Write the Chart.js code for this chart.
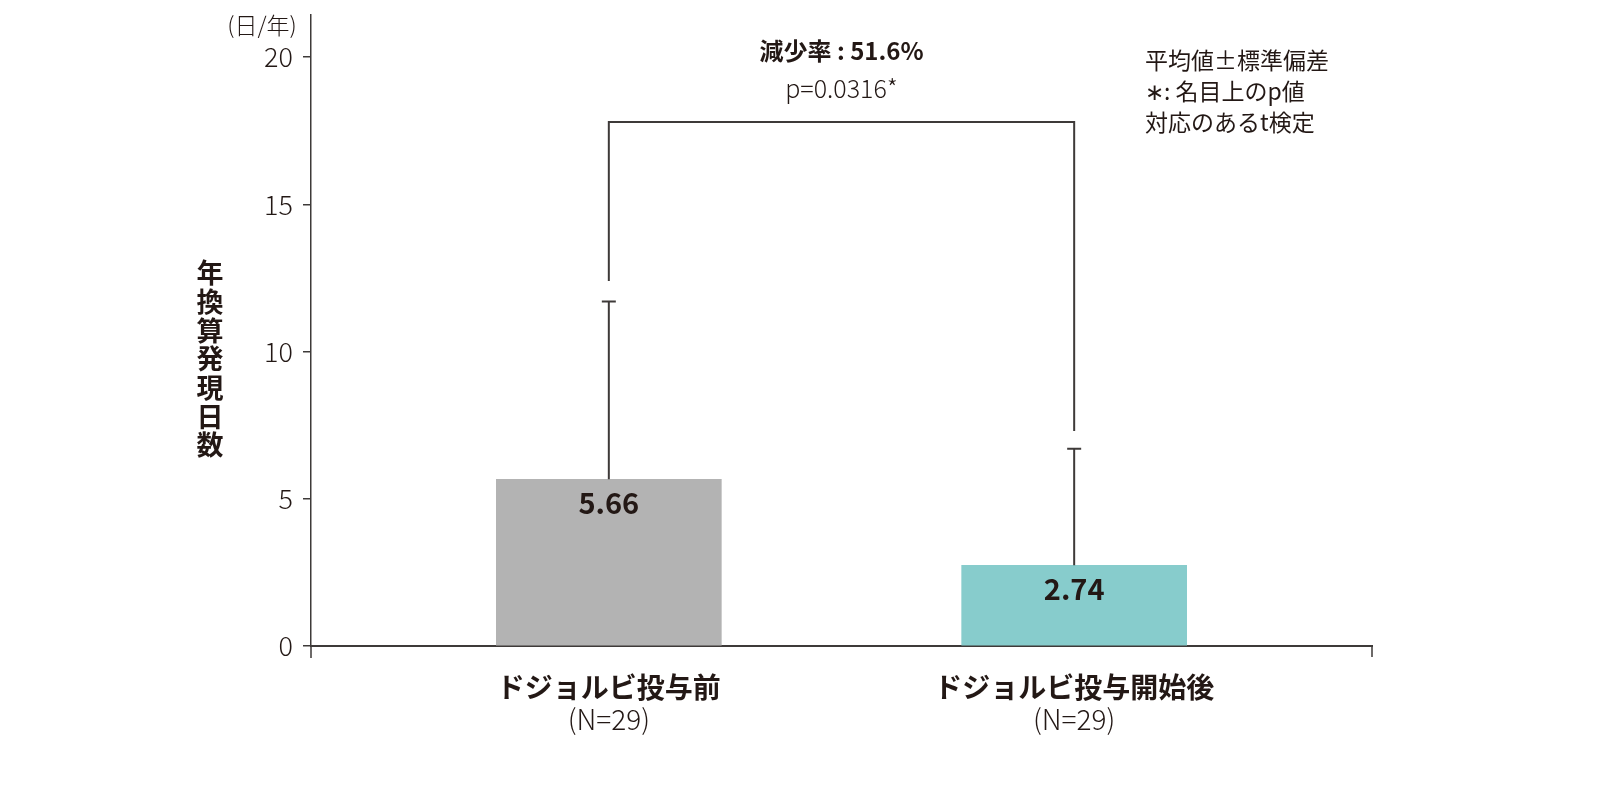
<!DOCTYPE html>
<html>
<head>
<meta charset="utf-8">
<script src="https://cdn.jsdelivr.net/npm/chart.js@4"></script>
<style>
    body { margin: 0; background: #fff; }
    #wrap { width: 1600px; height: 800px; }
</style>
</head>
<body>
<div id="wrap"><canvas id="daysChart" width="1600" height="800"></canvas></div>
<script>
const groups = ["ドジョルビ投与前", "ドジョルビ投与開始後"]
const groupN = ["(N=29)", "(N=29)"]
const means = [5.66, 2.74]
const sdTops = [11.7, 6.7]
const barColors = ["#b3b3b3", "#87cccc"]
const bracketTop = 17.8
const bracketEnds = [12.4, 7.3]
const yTicks = [0, 5, 10, 15, 20]
const notes = ["平均値±標準偏差", "∗: 名目上のp値", "対応のあるt検定"]
const statLines = ["減少率 : 51.6%", "p=0.0316*"]
const yTitle = "年換算発現日数"
const yUnit = "(日/年)"

const ink = "#231815"
const lineInk = "#3e3a39"
const jp = '"Noto Sans CJK JP", "Noto Sans", sans-serif'

const extras = {
    id: "extras",
    afterDatasetsDraw(chart) {
        const ctx = chart.ctx
        const x = chart.scales.x
        const y = chart.scales.y
        const area = chart.chartArea
        ctx.save()
        ctx.strokeStyle = lineInk
        ctx.fillStyle = ink

        // error bars (upper only)
        ctx.lineWidth = 2
        for (let i = 0; i < means.length; i++) {
            const px = x.getPixelForValue(i + 1)
            const yTop = y.getPixelForValue(sdTops[i])
            ctx.beginPath()
            ctx.moveTo(px, y.getPixelForValue(means[i]))
            ctx.lineTo(px, yTop)
            ctx.moveTo(px - 7, yTop)
            ctx.lineTo(px + 7, yTop)
            ctx.stroke()
        }

        // bracket
        const bTop = y.getPixelForValue(bracketTop)
        const x1 = x.getPixelForValue(1)
        const x2 = x.getPixelForValue(2)
        ctx.beginPath()
        ctx.moveTo(x1, y.getPixelForValue(bracketEnds[0]))
        ctx.lineTo(x1, bTop)
        ctx.lineTo(x2, bTop)
        ctx.lineTo(x2, y.getPixelForValue(bracketEnds[1]))
        ctx.stroke()

        // axis ends below zero
        ctx.lineWidth = 1.5
        ctx.beginPath()
        ctx.moveTo(area.left, area.bottom)
        ctx.lineTo(area.left, area.bottom + 12)
        ctx.moveTo(area.right, area.bottom)
        ctx.lineTo(area.right, area.bottom + 11)
        ctx.stroke()

        // value labels inside bars
        ctx.textAlign = "center"
        ctx.textBaseline = "middle"
        ctx.font = "bold 29px " + jp
        for (let i = 0; i < means.length; i++) {
            ctx.fillText(means[i].toFixed(2), x.getPixelForValue(i + 1), y.getPixelForValue(means[i]) + 24)
        }

        // category labels
        for (let i = 0; i < groups.length; i++) {
            const px = x.getPixelForValue(i + 1)
            ctx.font = "bold 28px " + jp
            ctx.fillText(groups[i], px, area.bottom + 41)
            ctx.font = "300 28px " + jp
            ctx.fillText(groupN[i], px, area.bottom + 73)
        }

        // stats above bracket
        const mid = (x1 + x2) / 2
        ctx.font = "bold 24px " + jp
        ctx.fillText(statLines[0], mid, 51)
        ctx.font = "300 25px " + jp
        ctx.fillText(statLines[1], mid, 88)

        // notes
        ctx.textAlign = "left"
        ctx.font = "23px " + jp
        notes.forEach((t, i) => ctx.fillText(t, 1145, 60 + i * 31))

        // unit
        ctx.textAlign = "center"
        ctx.font = "300 23px " + jp
        ctx.fillText(yUnit, 262, 25)

        // vertical y title
        ctx.font = "bold 27px " + jp
        for (let i = 0; i < yTitle.length; i++) {
            ctx.fillText(yTitle[i], 210, 273 + i * 28.7)
        }
        ctx.restore()
    }
}

const ctx = document.getElementById("daysChart").getContext("2d")

new Chart(ctx, {
    type: "bar",
    data: {
        datasets: [{
            data: means.map((v, i) => ({ x: i + 1, y: v })),
            backgroundColor: barColors,
            borderWidth: 0,
            barThickness: 225
        }]
    },
    options: {
        responsive: false,
        animation: false,
        devicePixelRatio: 1,
        layout: { padding: { left: 0, right: 228, top: 15, bottom: 0 } },
        plugins: {
            legend: { display: false },
            tooltip: { enabled: false }
        },
        scales: {
            x: {
                type: "linear",
                min: 0.36,
                max: 2.64,
                offset: false,
                afterFit: (scale) => {
                    scale.height = 154
                    scale.paddingLeft = 0
                    scale.paddingRight = 0
                },
                grid: { display: false },
                border: { display: true, color: lineInk, width: 2 },
                ticks: { display: false }
            },
            y: {
                min: 0,
                max: 21.43,
                afterFit: (scale) => {
                    scale.width = 311
                    scale.paddingTop = 0
                    scale.paddingBottom = 0
                },
                afterBuildTicks: (scale) => { scale.ticks = yTicks.map(v => ({ value: v })) },
                grid: { display: true, drawOnChartArea: false, drawTicks: true, tickLength: 8, color: lineInk, lineWidth: 1.5 },
                border: { display: true, color: lineInk, width: 1.5 },
                ticks: {
                    color: ink,
                    padding: 10,
                    font: { family: jp, size: 27, weight: 300 }
                }
            }
        }
    },
    plugins: [extras]
})
</script>
</body>
</html>
